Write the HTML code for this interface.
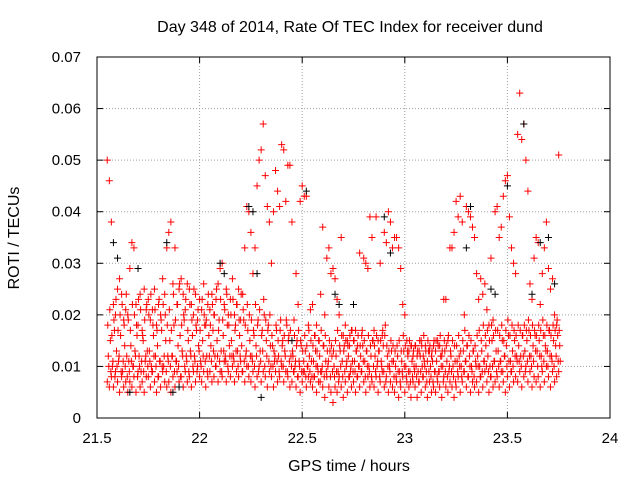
<!DOCTYPE html>
<html><head><meta charset="utf-8"><style>
body{margin:0;background:#fff;}
svg{display:block;font-family:"Liberation Sans",sans-serif;}
</style></head><body>
<svg id="chart" width="640" height="480" viewBox="0 0 640 480" xmlns="http://www.w3.org/2000/svg">
<rect x="0" y="0" width="640" height="480" fill="#fff"/>
<text x="350" y="32" font-size="16" text-anchor="middle">Day 348 of 2014, Rate Of TEC Index for receiver dund</text>
<text x="349" y="471" font-size="16" text-anchor="middle">GPS time / hours</text>
<text x="19" y="238" font-size="16" text-anchor="middle" transform="rotate(-90 19 238)">ROTI / TECUs</text>
<g id="grid"></g><g id="ticks"></g><g id="pts"></g>
<rect x="97" y="57" width="513" height="361" fill="none" stroke="#000" stroke-width="1"/>
</svg>
<script>
const xTicks=[21.5,22,22.5,23,23.5,24];
const xTickLabels=["21.5","22","22.5","23","23.5","24"];
const yTicks=[0,0.01,0.02,0.03,0.04,0.05,0.06,0.07];
const yTickLabels=["0","0.01","0.02","0.03","0.04","0.05","0.06","0.07"];
const times=[21.55,21.56,21.57,21.58,21.59,21.60,21.61,21.62,21.63,21.64,21.65,21.66,21.67,21.68,21.69,21.70,21.71,21.72,21.73,21.74,21.75,21.76,21.77,21.78,21.79,21.80,21.81,21.82,21.83,21.84,21.85,21.86,21.87,21.88,21.89,21.90,21.91,21.92,21.93,21.94,21.95,21.96,21.97,21.98,21.99,22.00,22.01,22.02,22.03,22.04,22.05,22.06,22.07,22.08,22.09,22.10,22.11,22.12,22.13,22.14,22.15,22.16,22.17,22.18,22.19,22.20,22.21,22.22,22.23,22.24,22.25,22.26,22.27,22.28,22.29,22.30,22.31,22.32,22.33,22.34,22.35,22.36,22.37,22.38,22.39,22.40,22.41,22.42,22.43,22.44,22.45,22.46,22.47,22.48,22.49,22.50,22.51,22.52,22.53,22.54,22.55,22.56,22.57,22.58,22.59,22.60,22.61,22.62,22.63,22.64,22.65,22.66,22.67,22.68,22.69,22.70,22.71,22.72,22.73,22.74,22.75,22.76,22.77,22.78,22.79,22.80,22.81,22.82,22.83,22.84,22.85,22.86,22.87,22.88,22.89,22.90,22.91,22.92,22.93,22.94,22.95,22.96,22.97,22.98,22.99,23.00,23.01,23.02,23.03,23.04,23.05,23.06,23.07,23.08,23.09,23.10,23.11,23.12,23.13,23.14,23.15,23.16,23.17,23.18,23.19,23.20,23.21,23.22,23.23,23.24,23.25,23.26,23.27,23.28,23.29,23.30,23.31,23.32,23.33,23.34,23.35,23.36,23.37,23.38,23.39,23.40,23.41,23.42,23.43,23.44,23.45,23.46,23.47,23.48,23.49,23.50,23.51,23.52,23.53,23.54,23.55,23.56,23.57,23.58,23.59,23.60,23.61,23.62,23.63,23.64,23.65,23.66,23.67,23.68,23.69,23.70,23.71,23.72,23.73,23.74,23.75];
// values in 0.001 TECU
const redLo=[7,6,8,6,9,7,5,8,6,7, 5,7,6,8,5,9,6,7,5,8, 8,6,9,7,5,8,6,9,7,6, 7,5,8,6,9,7,8,6,9,7, 8,6,9,7,10,8,7,9,6,8, 9,7,8,10,7,9,8,11,7,9, 8,10,7,9,8,11,9,7,10,8, 7,9,6,8,10,7,9,8,6,9, 8,6,9,7,8,10,7,9,8,6, 7,9,6,8,5,7,9,6,8,7, 6,8,5,7,9,6,4,8,6,5, 3,6,5,8,6,4,7,5,8,6, 7,5,8,6,9,7,5,8,6,7, 6,8,5,7,9,6,8,5,7,6, 5,7,4,6,8,5,7,6,4,7, 6,4,7,5,8,6,4,7,5,6, 5,7,6,4,8,6,5,7,6,4, 6,8,5,7,9,6,8,5,7,6, 7,5,8,6,9,7,5,8,6,7, 8,6,9,7,5,8,6,9,7,8, 7,9,6,8,10,7,9,6,8,7, 8,6,9,7,10,8,6,9,7,8, 9];
const redMid=[12,15,10,17,13,11,16,9,14,12, 11,14,10,13,16,12,9,15,11,13, 13,10,16,12,14,11,17,10,15,12, 15,12,18,11,14,16,13,19,12,15, 13,16,12,17,14,11,15,18,12,16, 14,17,12,15,19,13,16,12,18,14, 15,12,18,13,16,14,19,12,17,15, 12,16,14,19,13,17,20,15,18,14, 14,11,17,12,19,15,13,18,16,12, 12,10,15,11,14,9,13,10,12,11, 11,13,10,12,9,14,11,10,13,12, 10,12,9,13,11,14,10,12,9,11, 11,13,10,12,14,11,13,10,12,15, 12,10,13,11,14,18,12,10,13,11, 10,12,9,11,13,10,12,9,11,10, 10,9,12,10,11,9,13,10,11,9, 11,9,12,10,13,11,9,12,10,11, 11,12,10,13,11,14,12,10,13,11, 12,10,13,11,14,12,10,15,11,13, 13,11,15,12,14,16,11,13,15,12, 14,12,16,13,15,17,12,14,16,13, 15,12,16,14,13,17,12,15,14,16, 14];
const redHi=[50,46,38,22,20,25,27,24,19,21, 20,29,34,33,22,18,24,17,25,21, 23,19,21,25,18,22,20,27,24,33, 36,38,26,33,22,25,27,24,21,26, 25,22,20,24,19,23,21,26,18,22, 21,24,20,23,26,29,30,22,25,20, 23,27,20,22,25,19,24,33,41,40, 36,28,33,45,50,52,57,47,41,38, 30,40,48,44,41,53,52,42,49,49, 38,19,28,22,42,45,43,43,18,21, 22,16,18,15,24,37,20,31,33,28, 29,27,23,20,35,16,18,15,14,17, 15,17,14,32,16,31,30,29,39,35, 17,39,15,30,16,36,34,40,38,33, 35,35,33,29,22,20,15,13,14,12, 14,12,13,15,12,14,11,13,12,14, 13,15,14,12,23,23,15,33,33,36, 42,39,43,38,20,41,40,39,37,35, 28,23,27,24,26,21,18,31,19,40, 41,35,37,43,46,47,39,33,30,28, 55,63,54,57,50,44,26,23,31,35, 34,22,28,33,38,29,25,27,20,18, 51];
const redA=[18,21,16,19,23,17,20,22,18,24, 19,17,22,20,18,23,21,16,19,22, 20,24,18,21,17,23,19,22,20,18, 21,17,24,19,22,26,18,20,23,17, 22,19,25,18,21,17,23,20,19,24, 18,22,20,25,17,23,19,21,24,18, 20,23,17,22,19,24,21,18,22,20, 19,17,22,18,21,16,23,19,17,20, 16,13,18,15,17,14,16,19,15,17, 13,16,14,17,15,13,16,14,17,15, 14,16,13,15,17,14,16,13,15,14, 13,15,17,14,16,13,15,14,16,17, 15,13,16,14,17,15,13,16,14,15, 14,16,13,15,17,16,14,13,15,14, 13,14,15,13,16,14,13,15,14,13, 14,13,15,14,16,13,15,14,13,15, 15,14,16,13,15,14,16,13,15,14, 14,16,13,15,17,14,16,15,13,14, 16,17,15,18,16,17,15,18,16,17, 17,16,18,15,17,19,16,18,17,16, 18,17,16,18,17,19,16,18,17,16, 18,17,19,16,18,17,16,18,17,19, 17];
const redB=[10,9,11,8,10,12,9,11,10,8, 9,11,10,12,8,10,11,9,12,10, 11,9,12,10,8,11,10,12,9,11, 10,12,9,11,10,8,12,10,11,9, 12,10,11,9,13,10,12,11,9,12, 11,13,10,12,11,9,13,11,10,12, 12,11,13,10,12,9,11,13,10,12, 11,10,12,9,11,13,10,12,11,10, 10,12,11,9,11,10,12,9,11,10, 9,11,8,10,9,11,8,10,9,8, 8,10,9,7,10,8,9,11,8,9, 8,9,7,10,8,9,11,8,10,9, 9,8,10,9,11,8,10,9,8,10, 9,11,8,10,9,7,10,9,11,8, 8,9,7,9,10,8,9,7,8,9, 8,7,9,8,10,7,9,8,7,9, 8,9,10,7,9,8,10,9,8,7, 9,10,8,9,11,8,10,9,8,10, 10,8,9,11,10,9,8,10,11,9, 10,11,9,12,10,11,9,10,12,11, 11,10,12,9,11,12,10,11,13,10, 12,10,11,13,10,12,11,10,12,11, 11];
const blackT=[21.58,21.60,21.66,21.70,21.84,21.87,22.10,22.12,22.24,22.26,22.28,22.45,22.52,22.66,22.68,22.90,22.93,23.30,23.32,23.42,23.44,23.50,23.58,23.62,23.66,23.70,23.73,22.30,21.90,22.75];
const blackV=[34,31,5,29,34,5,30,28,41,40,28,15,44,24,22,39,32,33,41,25,24,45,57,24,34,35,26,4,6,22];
const NS="http://www.w3.org/2000/svg";
const X=t=>97+(t-21.5)/2.5*513;
const Y=v=>418-v/0.07*361;
function mk(tag,attrs,parent){const e=document.createElementNS(NS,tag);for(const k in attrs)e.setAttribute(k,attrs[k]);parent.appendChild(e);return e;}
const grid=document.getElementById('grid'),ticks=document.getElementById('ticks'),pts=document.getElementById('pts');
xTicks.forEach((t,i)=>{const x=X(t);
 if(i>0&&i<xTicks.length-1){const g=mk('line',{x1:x,x2:x,y1:57,y2:418,stroke:'#a0a0a0','stroke-dasharray':'1,2'},grid);
 
 }
 mk('line',{x1:x,x2:x,y1:418,y2:412,stroke:'#000'},ticks);mk('line',{x1:x,x2:x,y1:57,y2:63,stroke:'#000'},ticks);
 const l=mk('text',{x:x,y:443,'font-size':15,'text-anchor':'middle'},ticks);l.textContent=xTickLabels[i];
 
 });
yTicks.forEach((v,i)=>{const y=Y(v);
 if(i>0&&i<yTicks.length-1){const g=mk('line',{x1:97,x2:610,y1:y,y2:y,stroke:'#a0a0a0','stroke-dasharray':'1,2'},grid);
 
 }
 mk('line',{x1:97,x2:103,y1:y,y2:y,stroke:'#000'},ticks);mk('line',{x1:610,x2:604,y1:y,y2:y,stroke:'#000'},ticks);
 const l=mk('text',{x:81,y:y+5,'font-size':15,'text-anchor':'end'},ticks);l.textContent=yTickLabels[i];
 
 });
function plus(t,v,c,name){const x=X(t),y=Y(v/1000);
 const p=mk('path',{d:`M${x-3.5},${y}H${x+3.5}M${x},${y-3.5}V${y+3.5}`,stroke:c,'stroke-width':1,fill:'none'},pts);
 
 }
times.forEach((t,i)=>{
 plus(t,redLo[i],'#ff0000','roti-point');
 plus(t+0.005,redMid[i],'#ff0000','roti-point');
 plus(t,redHi[i],'#ff0000','roti-point');
 plus(t+0.0025,redA[i],'#ff0000','roti-point');
 plus(t+0.0075,redB[i],'#ff0000','roti-point');});
blackT.forEach((t,i)=>plus(t,blackV[i],'#000000','roti-point-alt'));
</script>
</body></html>
